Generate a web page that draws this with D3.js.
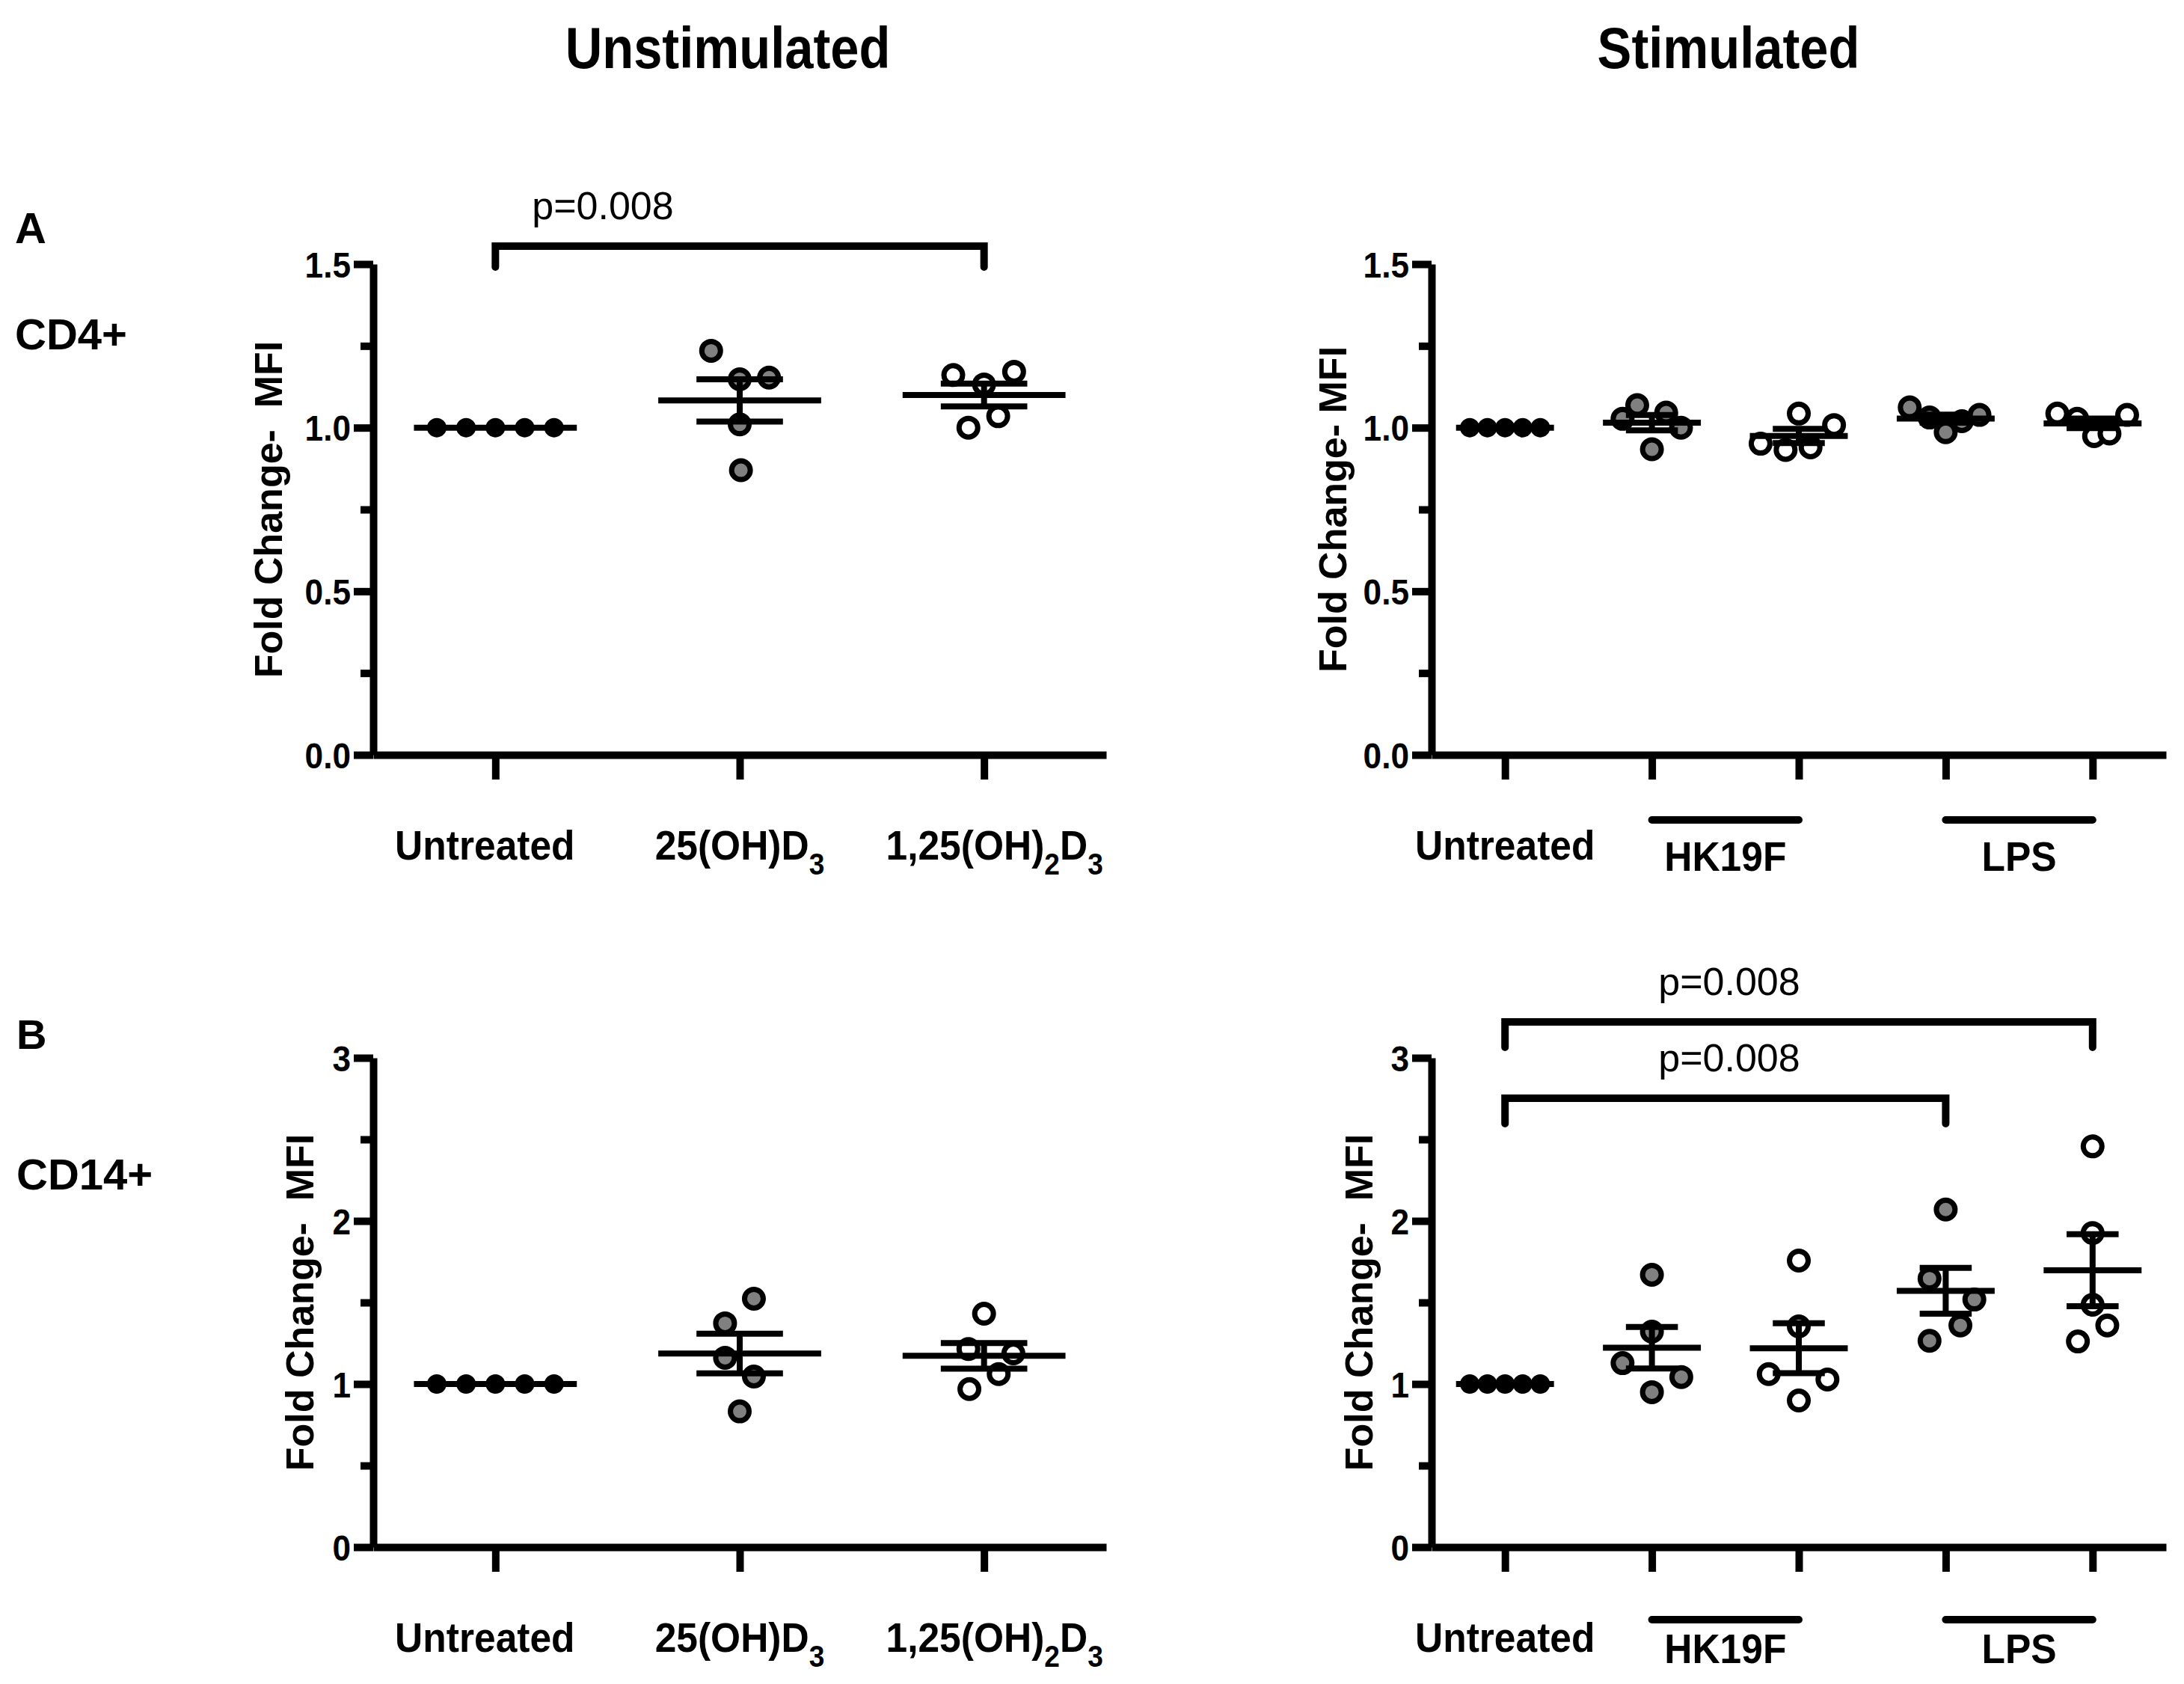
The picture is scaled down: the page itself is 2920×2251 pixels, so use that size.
<!DOCTYPE html>
<html>
<head>
<meta charset="utf-8">
<title>Fold Change - MFI</title>
<script src="https://cdn.jsdelivr.net/npm/d3@7/dist/d3.min.js"></script>
<style>
  body { margin: 0; background: #fff; }
  text { font-family: "Liberation Sans", Arial, Helvetica, sans-serif; }
</style>
</head>
<body>
<svg id="fig" width="2920" height="2251"></svg>
<script>
// ---- data ----
var unstimCats = ["Untreated", "25(OH)D_3", "1,25(OH)_2D_3"];
var stimCats = ["Untreated", "HK19F + 25(OH)D_3", "HK19F + 1,25(OH)_2D_3", "LPS + 25(OH)D_3", "LPS + 1,25(OH)_2D_3"];
var unstimTreat = ["none", "25(OH)D3", "1,25(OH)2D3"];
var stimTreat = ["none", "25(OH)D3", "1,25(OH)2D3", "25(OH)D3", "1,25(OH)2D3"];
var stimGroups = [{name: "HK19F", first: 1, last: 2}, {name: "LPS", first: 3, last: 4}];

var cd4Ticks = [0, 0.5, 1.0, 1.5];
var cd4Minor = [0.25, 0.75, 1.25];
var cd14Ticks = [0, 1, 2, 3];
var cd14Minor = [0.5, 1.5, 2.5];

// CD4+ fold change, unstimulated
var cd4Unstim = [
  [1, 1, 1, 1, 1],
  [1.235, 1.148, 1.153, 1.010, 0.870],
  [1.161, 1.132, 1.171, 1.000, 1.035]
];
var cd4UnstimSpread = [
  [-0.24, -0.12, 0, 0.12, 0.24],
  [-0.117, 0, 0.12, 0, 0.005],
  [-0.126, 0, 0.123, -0.064, 0.058]
];

// CD4+ fold change, stimulated
var cd4Stim = [
  [1, 1, 1, 1, 1],
  [1.069, 1.027, 1.046, 1.000, 0.934],
  [1.043, 1.008, 0.951, 0.932, 0.940],
  [1.062, 1.031, 0.986, 1.020, 1.039],
  [1.043, 1.027, 0.974, 0.982, 1.039]
];
var cd4StimSpread = [
  [-0.24, -0.12, 0, 0.12, 0.24],
  [-0.10, -0.20, 0.097, 0.198, 0],
  [0, 0.24, -0.26, -0.09, 0.08],
  [-0.245, -0.11, 0, 0.11, 0.23],
  [-0.24, -0.105, 0.01, 0.115, 0.235]
];

// CD14+ fold change, unstimulated
var cd14Unstim = [
  [1, 1, 1, 1, 1],
  [1.523, 1.372, 1.161, 1.046, 0.832],
  [1.431, 1.215, 1.188, 1.061, 0.969]
];
var cd14UnstimSpread = [
  [-0.24, -0.12, 0, 0.12, 0.24],
  [0.058, -0.06, -0.06, 0.058, 0],
  [0, -0.064, 0.12, 0.06, -0.06]
];

// CD14+ fold change, stimulated
var cd14Stim = [
  [1, 1, 1, 1, 1],
  [1.670, 1.321, 1.128, 1.043, 0.950],
  [1.757, 1.353, 1.061, 1.028, 0.899],
  [2.070, 1.646, 1.518, 1.359, 1.265],
  [2.457, 1.926, 1.486, 1.359, 1.261]
];
var cd14StimSpread = [
  [-0.24, -0.12, 0, 0.12, 0.24],
  [0, 0, -0.2, 0.2, 0],
  [0, 0, -0.205, 0.195, 0],
  [0, -0.11, 0.195, 0.1, -0.11],
  [0, 0, 0, 0.1, -0.1]
];

var cd4UnstimTests = [{from: 0, to: 2, label: "p=0.008"}];
var cd14StimTests = [{from: 0, to: 4, label: "p=0.008"}, {from: 0, to: 3, label: "p=0.008"}];

// ---- drawing ----
var fillOf = {"none": "#000000", "25(OH)D3": "#808080", "1,25(OH)2D3": "#ffffff"};
var svg = d3.select("#fig");

// text with "_x" subscripts, squeezed a bit horizontally like the original
function richText(g, x, y, label, size, sx, anchor, weight) {
  var t = g.append("text")
    .attr("transform", "translate(" + x + "," + y + ") scale(" + sx + ",1)")
    .attr("text-anchor", anchor)
    .attr("font-size", size)
    .attr("font-weight", weight)
    .attr("fill", "#000");
  var shift = 0;
  label.split(/(_.)/).forEach(function(s) {
    if (!s) return;
    if (s[0] === "_") {
      t.append("tspan").attr("font-size", size * 0.72).attr("dy", size * 0.36 - shift).text(s[1]);
      shift = size * 0.36;
    } else {
      t.append("tspan").attr("dy", -shift).text(s);
      shift = 0;
    }
  });
  return t;
}

function drawPanel(p) {
  var g = svg.append("g");
  var x = d3.scalePoint().domain(d3.range(p.values.length)).range([p.left, p.right]).padding(0.5);
  var y = d3.scaleLinear().domain([p.ticks[0], p.ticks[p.ticks.length - 1]]).range([p.bottom, p.top]);
  var step = x.step();

  // minor y ticks
  g.append("g").attr("transform", "translate(" + p.left + ",0)")
    .call(d3.axisLeft(y).tickValues(p.minor).tickSize(17).tickFormat(""))
    .call(function(a) {
      a.select(".domain").remove();
      a.selectAll("line").attr("stroke-width", 10);
    });

  var yAxis = g.append("g").attr("transform", "translate(" + p.left + ",0)")
    .call(d3.axisLeft(y).tickValues(p.ticks).tickSize(26).tickSizeOuter(0).tickFormat(p.format));
  yAxis.attr("font-family", null).attr("font-size", 48).attr("font-weight", "bold");
  yAxis.select(".domain").attr("stroke-width", 10);
  yAxis.selectAll(".tick line").attr("stroke-width", 10);
  yAxis.selectAll(".tick text")
    .attr("x", -30 / 0.92)
    .attr("dy", "0.36em")
    .attr("transform", "scale(0.92,1)")
    .attr("fill", "#000");

  var xAxis = g.append("g").attr("transform", "translate(0," + p.bottom + ")")
    .call(d3.axisBottom(x).tickSize(33).tickSizeOuter(0).tickFormat(""));
  xAxis.select(".domain").attr("stroke-width", 10);
  xAxis.selectAll(".tick line").attr("stroke-width", 10);

  // y title
  g.append("text")
    .attr("transform", "translate(" + (p.left - p.titleOff) + "," + ((p.top + p.bottom) / 2) + ") rotate(-90)")
    .attr("text-anchor", "middle")
    .attr("font-size", 52)
    .attr("font-weight", "bold")
    .style("white-space", "pre")
    .text(p.yTitle);

  // points
  var pts = [];
  p.values.forEach(function(vals, i) {
    vals.forEach(function(v, k) { pts.push({i: i, v: v, dx: p.spread[i][k]}); });
  });
  g.append("g").selectAll("circle").data(pts).join("circle")
    .attr("cx", function(d) { return x(d.i) + d.dx * step; })
    .attr("cy", function(d) { return y(d.v); })
    .attr("r", function(d) { return p.treat[d.i] === "none" ? 13 : 12.5; })
    .attr("fill", function(d) { return fillOf[p.treat[d.i]]; })
    .attr("stroke", function(d) { return p.treat[d.i] === "none" ? "none" : "#000"; })
    .attr("stroke-width", 7);

  // mean +/- SEM
  var sg = g.append("g").attr("stroke", "#000").attr("stroke-width", 8);
  p.values.forEach(function(vals, i) {
    var m = d3.mean(vals);
    var se = (d3.deviation(vals) || 0) / Math.sqrt(vals.length);
    var cx = x(i);
    sg.append("line").attr("x1", cx - step / 3).attr("x2", cx + step / 3)
      .attr("y1", y(m)).attr("y2", y(m));
    if (se > 0) {
      sg.append("line").attr("x1", cx).attr("x2", cx).attr("y1", y(m - se)).attr("y2", y(m + se));
      [m - se, m + se].forEach(function(v) {
        sg.append("line").attr("x1", cx - step * 0.177).attr("x2", cx + step * 0.177)
          .attr("y1", y(v)).attr("y2", y(v));
      });
    }
  });

  // category labels
  p.cats.forEach(function(c, i) {
    var grouped = (p.groups || []).some(function(gr) { return i >= gr.first && i <= gr.last; });
    var nudge = p.labelNudge ? p.labelNudge[i] : 0;
    if (!grouped) richText(g, x(i) + nudge, p.bottom + 140, c, 56, 0.92, "middle", "bold");
  });
  (p.groups || []).forEach(function(gr) {
    g.append("line")
      .attr("x1", x(gr.first)).attr("x2", x(gr.last))
      .attr("y1", p.bottom + p.groupLineDy).attr("y2", p.bottom + p.groupLineDy)
      .attr("stroke", "#000").attr("stroke-width", 10).attr("stroke-linecap", "round");
    richText(g, (x(gr.first) + x(gr.last)) / 2, p.bottom + 155, gr.name, 56, 0.92, "middle", "bold");
  });

  // significance brackets
  (p.tests || []).forEach(function(t, k) {
    var b = p.bracketY[k];
    g.append("path")
      .attr("d", "M" + x(t.from) + "," + (b + p.legLen) + "V" + b + "H" + x(t.to) + "V" + (b + p.legLen))
      .attr("fill", "none").attr("stroke", "#000").attr("stroke-width", 10)
      .attr("stroke-linecap", "round");
    richText(g, p.testTextX[k], b - 36, t.label, 52, 1, "middle", "normal");
  });
}

var fmt1 = d3.format(".1f");
var fmt0 = d3.format("d");

drawPanel({
  values: cd4Unstim, spread: cd4UnstimSpread, treat: unstimTreat, cats: unstimCats,
  ticks: cd4Ticks, minor: cd4Minor, format: fmt1, labelNudge: [-14, 0, 14],
  left: 499, right: 1479, top: 353, bottom: 1009, titleOff: 122,
  yTitle: "Fold Change-  MFI",
  tests: cd4UnstimTests, bracketY: [329], legLen: 28, testTextX: [806]
});
drawPanel({
  values: cd4Stim, spread: cd4StimSpread, treat: stimTreat, cats: stimCats, groups: stimGroups,
  ticks: cd4Ticks, minor: cd4Minor, format: fmt1,
  left: 1914, right: 2896, top: 353, bottom: 1009, titleOff: 114, groupLineDy: 87,
  yTitle: "Fold Change- MFI"
});
drawPanel({
  values: cd14Unstim, spread: cd14UnstimSpread, treat: unstimTreat, cats: unstimCats,
  ticks: cd14Ticks, minor: cd14Minor, format: fmt0, labelNudge: [-14, 0, 14],
  left: 499, right: 1479, top: 1414, bottom: 2068, titleOff: 80,
  yTitle: "Fold Change-  MFI"
});
drawPanel({
  values: cd14Stim, spread: cd14StimSpread, treat: stimTreat, cats: stimCats, groups: stimGroups,
  ticks: cd14Ticks, minor: cd14Minor, format: fmt0,
  left: 1914, right: 2896, top: 1414, bottom: 2068, titleOff: 79, groupLineDy: 97,
  yTitle: "Fold Change-  MFI",
  tests: cd14StimTests, bracketY: [1366, 1468], legLen: 34, testTextX: [2312, 2312]
});

// column titles and row labels
richText(svg, 973, 91, "Unstimulated", 78, 0.88, "middle", "bold");
richText(svg, 2311, 91, "Stimulated", 78, 0.88, "middle", "bold");
richText(svg, 20, 325, "A", 58, 1, "start", "bold");
richText(svg, 20, 467, "CD4+", 58, 1, "start", "bold");
richText(svg, 22, 1402, "B", 56, 1, "start", "bold");
richText(svg, 22, 1590, "CD14+", 58, 1, "start", "bold");
</script>
</body>
</html>
